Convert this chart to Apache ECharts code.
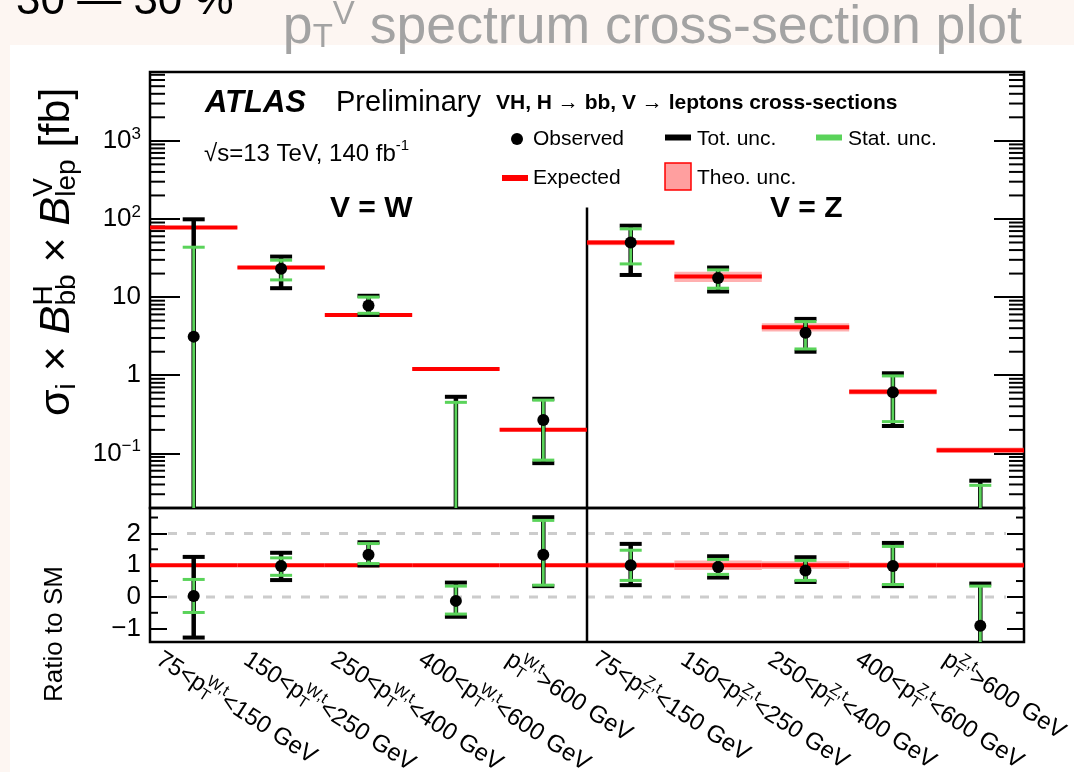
<!DOCTYPE html>
<html>
<head>
<meta charset="utf-8">
<title>pT V spectrum cross-section plot</title>
<script src="https://cdn.jsdelivr.net/npm/echarts@6.0.0/dist/echarts.min.js"></script>
<style>
  html, body { margin: 0; padding: 0; background: #fdf6f2; }
  #paper { position: absolute; left: 10px; top: 45px; width: 1064px; height: 727px; background: #fff; }
  #main { position: absolute; left: 0; top: 0; width: 1074px; height: 772px; }
</style>
</head>
<body>
<div id="paper"></div>
<div id="main"></div>
<script>
  // bins: 5 x W then 5 x Z
  var binLabels = [
    '75<p{sb|T}{sp|W,t}<150 GeV',
    '150<p{sb|T}{sp|W,t}<250 GeV',
    '250<p{sb|T}{sp|W,t}<400 GeV',
    '400<p{sb|T}{sp|W,t}<600 GeV',
    'p{sb|T}{sp|W,t}>600 GeV',
    '75<p{sb|T}{sp|Z,t}<150 GeV',
    '150<p{sb|T}{sp|Z,t}<250 GeV',
    '250<p{sb|T}{sp|Z,t}<400 GeV',
    '400<p{sb|T}{sp|Z,t}<600 GeV',
    'p{sb|T}{sp|Z,t}>600 GeV'
  ]

  // cross-sections [fb], null = below the axis
  var expected = [77.6, 23.9, 5.9, 1.2, 0.2, 50, 18.3, 4.12, 0.617, 0.11]
  var theoUnc = [0.01, 0.01, 0.01, 0.01, 0.01, 0.08, 0.15, 0.12, 0.08, 0.08]
  var observed = [3.12, 23, 7.8, null, 0.268, 49.9, 17.5, 3.5, 0.605, null]
  var totUp = [99, 33, 10.4, 0.53, 0.5, 82, 23.9, 5.26, 1.06, 0.0447]
  var totDown = [null, 13, 5.9, null, 0.075, 19.2, 11.8, 2.0, 0.224, null]
  var statUp = [43.5, 29.7, 10, 0.45, 0.48, 74.7, 22.3, 4.86, 0.98, 0.039]
  var statDown = [null, 16.6, 6.2, null, 0.082, 26.6, 13, 2.17, 0.255, null]
  var dividerTop = 140

  // ratio to SM
  var ratioSM = [1, 1, 1, 1, 1, 1, 1, 1, 1, 1]
  var ratioObs = [0.03, 0.97, 1.33, -0.125, 1.33, 1.0, 0.94, 0.83, 0.97, -0.91]
  var ratioTotUp = [1.26, 1.39, 1.72, 0.45, 2.51, 1.67, 1.28, 1.25, 1.7, 0.42]
  var ratioTotDown = [-1.28, 0.53, 0.99, -0.625, 0.34, 0.37, 0.61, 0.47, 0.34, null]
  var ratioStatUp = [0.55, 1.23, 1.68, 0.34, 2.41, 1.47, 1.18, 1.15, 1.59, 0.34]
  var ratioStatDown = [-0.49, 0.68, 1.05, -0.54, 0.37, 0.52, 0.71, 0.52, 0.39, null]
  var ratioRefLines = [0, 2]

  // axes
  var logMin = 0.02
  var logMax = 7600
  var ratioMin = -1.42
  var ratioMax = 2.8
  var ratioMinorTicks = [-0.5, 0.5, 1.5, 2.5]
  var logMinorTicks = []
  for (var d = -2; d <= 3; d++) {
    for (var m = 2; m <= 9; m++) {
      var t = m * Math.pow(10, d)
      if (t > logMin && t < logMax) logMinorTicks.push(t)
    }
  }

  var FONT = '"Liberation Sans", Arial, Helvetica, sans-serif'
  var GREEN = '#5ad35a'
  var RED = '#ff0000'
  var GRAY = '#a3a3a3'

  function seg(x1, y1, x2, y2, color, width, dash) {
    return {
      type: 'line',
      shape: { x1: x1, y1: y1, x2: x2, y2: y2 },
      style: { stroke: color, lineWidth: width, lineDash: dash || null }
    }
  }

  // red expected line per bin, with the theory band
  function expectedItem(vals) {
    return function(params, api) {
      var i = params.dataIndex
      var v = vals[i]
      var r = theoUnc[i]
      var p0 = api.coord([i, v])
      var p1 = api.coord([i + 1, v])
      var hi = api.coord([i, v * (1 + r)])[1]
      var lo = api.coord([i, v * (1 - r)])[1]
      return {
        type: 'group',
        children: [
          { type: 'rect', shape: { x: p0[0], y: hi, width: p1[0] - p0[0], height: lo - hi }, style: { fill: 'rgba(255,80,80,0.45)' } },
          seg(p0[0], p0[1], p1[0], p1[1], RED, 4)
        ]
      }
    }
  }

  // observed point with total (black) and stat (green) error bars
  function errorItem(obs, tu, td, su, sd) {
    return function(params, api) {
      var i = params.dataIndex
      var cs = params.coordSys
      var bottom = cs.y + cs.height
      var xc = api.coord([i + 0.5, tu[i]])[0]
      var yOf = function(v) { return v == null ? bottom : api.coord([i + 0.5, v])[1] }
      var half = 11
      var kids = []
      kids.push(seg(xc, yOf(td[i]), xc, yOf(tu[i]), '#000', 4.5))
      if (tu[i] != null) kids.push(seg(xc - half, yOf(tu[i]), xc + half, yOf(tu[i]), '#000', 4))
      if (td[i] != null) kids.push(seg(xc - half, yOf(td[i]), xc + half, yOf(td[i]), '#000', 4))
      kids.push(seg(xc, yOf(sd[i]), xc, yOf(su[i]), GREEN, 2.8))
      if (su[i] != null) kids.push(seg(xc - half, yOf(su[i]), xc + half, yOf(su[i]), GREEN, 3))
      if (sd[i] != null) kids.push(seg(xc - half, yOf(sd[i]), xc + half, yOf(sd[i]), GREEN, 3))
      if (obs[i] != null) kids.push({ type: 'circle', shape: { cx: xc, cy: yOf(obs[i]), r: 6 }, style: { fill: '#000' } })
      return { type: 'group', children: kids }
    }
  }

  function dividerItem(params, api) {
    var cs = params.coordSys
    var p = api.coord([api.value(0), api.value(1)])
    return seg(p[0], p[1], p[0], cs.y + cs.height, '#000', 2.5)
  }

  function minorTickItem(len) {
    return function(params, api) {
      var cs = params.coordSys
      var y = api.coord([0, api.value(1)])[1]
      return {
        type: 'group',
        children: [
          seg(cs.x, y, cs.x + len, y, '#000', 2),
          seg(cs.x + cs.width - len, y, cs.x + cs.width, y, '#000', 2)
        ]
      }
    }
  }

  function refLineItem(params, api) {
    var p0 = api.coord([0, api.value(1)])
    var p1 = api.coord([10, api.value(1)])
    return seg(p0[0] + 18, p0[1], p1[0] - 18, p1[1], '#cccccc', 3, [9, 10])
  }

  function logLabel(v) {
    var e = Math.round(Math.log10(v))
    if (e === 0) return '1'
    if (e === 1) return '10'
    return '10{sup|' + (e < 0 ? '\u2212' + (-e) : e) + '}'
  }

  function ratioLabel(v) {
    return v < 0 ? '\u2212' + Math.abs(v) : String(v)
  }

  function yAxisOf(grid, type, min, max, pos, tickLen, labels) {
    return {
      gridIndex: grid,
      type: type,
      min: min,
      max: max,
      position: pos,
      axisLine: { show: false },
      splitLine: { show: false },
      axisTick: { show: true, inside: true, length: tickLen, lineStyle: { color: '#000', width: 2 } },
      axisLabel: {
        show: labels,
        showMinLabel: false,
        showMaxLabel: false,
        margin: 9,
        color: '#000',
        fontSize: 26,
        fontFamily: FONT,
        formatter: type === 'log' ? logLabel : ratioLabel,
        rich: { sup: { fontSize: 17, fontFamily: FONT, color: '#000', padding: [0, 0, 14, 0] } }
      }
    }
  }

  var binData = function(vals) {
    return binLabels.map(function(l, i) { return [i + 0.5, vals[i] == null ? vals.filter(Boolean)[0] : vals[i]] })
  }

  var chart = echarts.init(document.getElementById('main'))

  var textStyle = function(size, extra) {
    var s = { fontSize: size, fontFamily: FONT, fill: '#000', verticalAlign: 'middle' }
    for (var k in extra) s[k] = extra[k]
    return s
  }

  var option = {
    animation: false,
    backgroundColor: 'transparent',
    grid: [
      { left: 150, top: 72, width: 874, height: 436, show: true, borderColor: '#000', borderWidth: 2.5, backgroundColor: 'transparent', outerBoundsMode: 'none' },
      { left: 150, top: 508, width: 874, height: 134, show: true, borderColor: '#000', borderWidth: 2.5, backgroundColor: 'transparent', outerBoundsMode: 'none' }
    ],
    xAxis: [
      { gridIndex: 0, type: 'value', min: 0, max: 10, interval: 1, axisLine: { show: false }, axisTick: { show: false }, axisLabel: { show: false }, splitLine: { show: false } },
      {
        gridIndex: 1, type: 'value', min: 0, max: 10, interval: 1,
        axisLine: { show: false }, axisTick: { show: false }, splitLine: { show: false },
        axisLabel: {
          show: true,
          rotate: -33,
          margin: 10,
          padding: [0, 0, 0, 10],
          color: '#000',
          fontSize: 24,
          fontFamily: FONT,
          formatter: function(v) {
            var k = Math.round(v)
            return k < binLabels.length ? binLabels[k] : ''
          },
          rich: {
            sb: { fontSize: 16, fontFamily: FONT, color: '#000', width: 0, padding: [14, 0, 0, 0] },
            sp: { fontSize: 16, fontFamily: FONT, color: '#000', padding: [0, 0, 16, 0] }
          }
        }
      }
    ],
    yAxis: [
      yAxisOf(0, 'log', logMin, logMax, 'left', 30, true),
      yAxisOf(0, 'log', logMin, logMax, 'right', 30, false),
      yAxisOf(1, 'value', ratioMin, ratioMax, 'left', 17, true),
      yAxisOf(1, 'value', ratioMin, ratioMax, 'right', 17, false)
    ],
    series: [
      {
        name: 'logMinor', type: 'custom', xAxisIndex: 0, yAxisIndex: 0, silent: true,
        data: logMinorTicks.map(function(v) { return [0, v] }),
        renderItem: minorTickItem(15)
      },
      {
        name: 'divider', type: 'custom', xAxisIndex: 0, yAxisIndex: 0, silent: true,
        data: [[5, dividerTop]], renderItem: dividerItem
      },
      {
        name: 'Expected', type: 'custom', xAxisIndex: 0, yAxisIndex: 0, clip: true, z: 3,
        data: binData(expected), renderItem: expectedItem(expected)
      },
      {
        name: 'Observed', type: 'custom', xAxisIndex: 0, yAxisIndex: 0, clip: true, z: 4,
        data: binData(totUp), renderItem: errorItem(observed, totUp, totDown, statUp, statDown)
      },
      {
        name: 'ratioMinor', type: 'custom', xAxisIndex: 1, yAxisIndex: 2, silent: true,
        data: ratioMinorTicks.map(function(v) { return [0, v] }),
        renderItem: minorTickItem(8)
      },
      {
        name: 'refLines', type: 'custom', xAxisIndex: 1, yAxisIndex: 2, silent: true,
        data: ratioRefLines.map(function(v) { return [0, v] }), renderItem: refLineItem
      },
      {
        name: 'ratioDivider', type: 'custom', xAxisIndex: 1, yAxisIndex: 2, silent: true,
        data: [[5, ratioMax]], renderItem: dividerItem
      },
      {
        name: 'ratioExpected', type: 'custom', xAxisIndex: 1, yAxisIndex: 2, clip: true, z: 3,
        data: binData(ratioSM), renderItem: expectedItem(ratioSM)
      },
      {
        name: 'ratioObserved', type: 'custom', xAxisIndex: 1, yAxisIndex: 2, clip: true, z: 4,
        data: binData(ratioTotUp), renderItem: errorItem(ratioObs, ratioTotUp, ratioTotDown, ratioStatUp, ratioStatDown)
      }
    ],
    graphic: [
      // cut-off line above the title
      { type: 'text', x: 16, y: 2, style: textStyle(44, { text: '30 \u2014 30 %' }) },
      {
        type: 'text', x: 1022, y: 28,
        style: textStyle(53.6, {
          text: 'p{sb|T}{sp|V} spectrum cross-section plot', align: 'right', fill: GRAY,
          rich: {
            sb: { fontSize: 33, fontFamily: FONT, fill: GRAY, padding: [20, 0, 0, 0] },
            sp: { fontSize: 33, fontFamily: FONT, fill: GRAY, padding: [0, 0, 26, 0] }
          }
        })
      },
      { type: 'text', x: 205, y: 103, style: textStyle(31, { text: 'ATLAS', fontWeight: 'bold', fontStyle: 'italic' }) },
      { type: 'text', x: 336, y: 103, style: textStyle(29, { text: 'Preliminary' }) },
      { type: 'text', x: 496, y: 103, style: textStyle(21, { text: 'VH, H \u2192 bb, V \u2192 leptons cross-sections', fontWeight: 'bold' }) },
      {
        type: 'text', x: 204, y: 154,
        style: textStyle(24, {
          text: '\u221as=13 TeV, 140 fb{sp|-1}',
          rich: { sp: { fontSize: 15, fontFamily: FONT, fill: '#000', padding: [0, 0, 17, 0] } }
        })
      },
      // legend
      { type: 'circle', shape: { cx: 517, cy: 139, r: 6 }, style: { fill: '#000' } },
      { type: 'text', x: 533, y: 139, style: textStyle(21, { text: 'Observed' }) },
      { type: 'rect', shape: { x: 665, y: 134.5, width: 26, height: 6 }, style: { fill: '#000' } },
      { type: 'text', x: 697, y: 139, style: textStyle(21, { text: 'Tot. unc.' }) },
      { type: 'rect', shape: { x: 816, y: 134.5, width: 26, height: 6 }, style: { fill: GREEN } },
      { type: 'text', x: 848, y: 139, style: textStyle(21, { text: 'Stat. unc.' }) },
      { type: 'rect', shape: { x: 502, y: 175, width: 26, height: 6 }, style: { fill: RED } },
      { type: 'text', x: 533, y: 178, style: textStyle(21, { text: 'Expected' }) },
      { type: 'rect', shape: { x: 665, y: 163, width: 26, height: 27 }, style: { fill: '#ff9f9f', stroke: RED, lineWidth: 1.5 } },
      { type: 'text', x: 697, y: 178, style: textStyle(21, { text: 'Theo. unc.' }) },
      { type: 'text', x: 330, y: 209, style: textStyle(30, { text: 'V = W', fontWeight: 'bold' }) },
      { type: 'text', x: 770, y: 209, style: textStyle(30, { text: 'V = Z', fontWeight: 'bold' }) },
      // axis titles (left aligned, written upwards from the bottom)
      {
        type: 'text', x: 57, y: 416, rotation: Math.PI / 2,
        style: textStyle(43, {
          text: '\u03c3{sub|i} \u00d7 {it|B}{supz|H}{sub|bb} \u00d7 {it|B}{supz|V}{sub|lep} [fb]',
          align: 'left',
          rich: {
            it: { fontSize: 43, fontFamily: FONT, fontStyle: 'italic', fill: '#000', align: 'left' },
            sub: { fontSize: 28, fontFamily: FONT, fill: '#000', align: 'left', padding: [20, 0, 0, 0] },
            supz: { fontSize: 28, fontFamily: FONT, fill: '#000', align: 'left', width: 0, padding: [0, 0, 26, 0] }
          }
        })
      },
      { type: 'text', x: 55, y: 634, rotation: Math.PI / 2, style: textStyle(26, { text: 'Ratio to SM', align: 'center' }) }
    ]
  }

  chart.setOption(option)
</script>
</body>
</html>
